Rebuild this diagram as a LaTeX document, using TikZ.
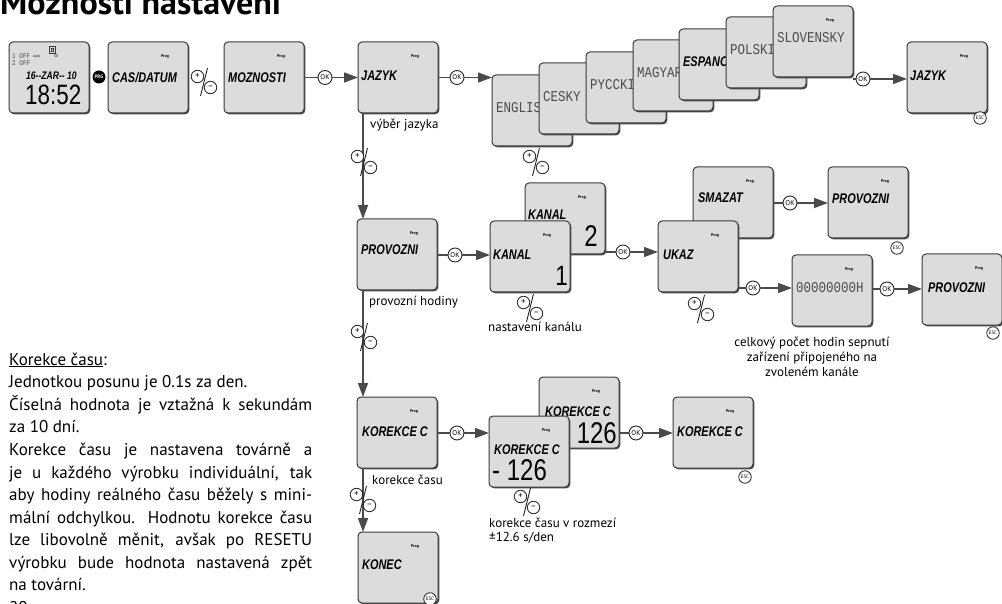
\documentclass[tikz,border=0pt]{standalone}
\usepackage{fontspec}
\setmainfont{PT Sans}
\newfontfamily\lcdfam{Liberation Sans}
\newfontfamily\lcdmono{Liberation Mono}
\newfontfamily\symfam{DejaVu Sans}
\usetikzlibrary{arrows.meta,calc,shadows}

\definecolor{lcdfill}{HTML}{DCDCDC}
\definecolor{lcdline}{HTML}{3A3A3A}
\definecolor{connc}{HTML}{4A4A4A}

\newcommand\lcdI[2][14]{{\fontsize{#1}{#1}\selectfont\lcdfam\bfseries\itshape\scalebox{0.78}[1]{#2}}}
\newcommand\lcdT[2][12.5]{{\fontsize{#1}{#1}\selectfont\lcdmono\color{black!70}\scalebox{1}[1.2]{#2}}}
\newcommand\lcdD[2][28]{{\fontsize{#1}{#1}\selectfont\lcdfam\scalebox{0.8}[1]{#2}}}
\newcommand\jline[1]{\makebox[303pt][s]{#1}}
\newcommand\progon[1]{\node[progt] (#1p) at ($(#1.north west)+(57,15)$) {Prog};}

\tikzset{
 lcd/.style={draw=lcdline, fill=lcdfill, line width=1pt, rounded corners=4pt,
   minimum width=80pt, minimum height=71pt, inner sep=0pt, outer sep=0pt, anchor=north west,
   drop shadow={shadow xshift=1.3pt, shadow yshift=-1.3pt, fill=black!70, opacity=1}},
 okc/.style={circle, draw=black!85, fill=white, line width=0.9pt, minimum size=14pt, inner sep=0pt,
   font=\fontsize{7}{7}\selectfont},
 escc/.style={circle, draw=black!85, fill=white, line width=0.8pt, minimum size=12.5pt, inner sep=0pt,
   font=\fontsize{5}{5}\selectfont},
 prgc/.style={circle, fill=black, text=white, minimum size=13pt, inner sep=0pt,
   font=\fontsize{5}{5}\selectfont\bfseries},
 conn/.style={draw=connc, line width=1.5pt},
 arr/.style={conn, -{Triangle[length=14pt,width=10pt]}},
 progt/.style={font=\fontsize{4}{4}\selectfont\bfseries, inner sep=0pt},
 lbl/.style={font=\fontsize{13}{15}\selectfont, inner sep=0pt, anchor=west},
 lcdtxt/.style={inner sep=0pt, anchor=west},
 body/.style={anchor=base west, inner sep=0pt, font=\fontsize{17}{20}\selectfont},
 pmc/.style={circle, draw=black!85, fill=white, line width=0.8pt, minimum size=12.5pt, inner sep=0pt,
   font=\fontsize{9}{9}\selectfont},
 pm/.pic={
   \node[pmc] (-plus) at (-6.5,-5.5) {+};
   \node[pmc] (-minus) at (6.5,5.5) {−};
   \draw[line width=0.9pt, black!85] (3.5,-14) -- (-3.5,14);
 }
}

\begin{document}
\begin{tikzpicture}[x=1pt,y=-1pt]
\useasboundingbox (0,0) rectangle (1002,604);
\clip (0,0) rectangle (1002,604);

% title
\node[anchor=base west, inner sep=0pt, font=\fontsize{34}{34}\selectfont\bfseries] (title) at (0,15) {Možnosti nastavení};

% ---- row 1
\node[lcd] (A) at (9,42) {};
\draw[lcdline, line width=0.6pt] (49,46) rectangle (55,53);
\draw[lcdline, line width=0.6pt] (51,48) rectangle (53,51);
\node[lcdtxt] (A1) at (12,56) {\lcdT[6]{1 OFF}};
\node[lcdtxt, font=\fontsize{3.5}{3.5}\selectfont] (A2) at (33,56) {Auto};
\node[lcdtxt, font=\fontsize{5}{5}\selectfont\symfam] (A3) at (54,56) {⊙};
\node[lcdtxt] (A4) at (12,63) {\lcdT[6]{2 OFF}};
\node[lcdtxt] (A5) at (26,76) {\lcdI[11]{16-{}-ZAR-{}- 10}};
\node[lcdtxt] (A6) at (25,95) {\lcdD[28]{18:52}};

\node[prgc] (prg) at (99,77) {PRG};

\node[lcd] (B) at (108,42) {};
\node[lcdtxt] (Bt) at ($(B.north west)+(4,36)$) {\lcdI{CAS/DATUM}};
\progon{B}

\node[lcd] (C) at (224,42) {};
\node[lcdtxt] (Ct) at ($(C.north west)+(4,36)$) {\lcdI{MOZNOSTI}};
\progon{C}

\node[lcd] (D) at (358,42) {};
\node[lcdtxt] (Dt) at ($(D.north west)+(3,34)$) {\lcdI{JAZYK}};
\progon{D}

\node[lcd] (E1) at (492,75) {};
\node[lcdtxt] (E1t) at ($(E1.north west)+(4,33)$) {\lcdT{ENGLISH}};
\node[lcd] (E2) at (539,63) {};
\node[lcdtxt] (E2t) at ($(E2.north west)+(4,34)$) {\lcdT{CESKY}};
\node[lcd] (E3) at (586,52) {};
\node[lcdtxt] (E3t) at ($(E3.north west)+(4,33)$) {\lcdT{PYCCKI}};
\node[lcd] (E4) at (633,40) {};
\node[lcdtxt] (E4t) at ($(E4.north west)+(4,33)$) {\lcdT{MAGYAR}};
\node[lcd] (E5) at (679,29) {};
\node[lcdtxt] (E5t) at ($(E5.north west)+(4,33)$) {\lcdI{ESPANOL}};
\node[lcd] (E6) at (726,17) {};
\node[lcdtxt] (E6t) at ($(E6.north west)+(4,33)$) {\lcdT{POLSKI}};
\node[lcd] (E7) at (773,6) {};
\node[lcdtxt] (E7t) at ($(E7.north west)+(4,32)$) {\lcdT{SLOVENSKY}};
\progon{E7}

\node[lcd] (F) at (907,42) {};
\node[lcdtxt] (Ft) at ($(F.north west)+(3,34)$) {\lcdI{JAZYK}};
\progon{F}

% ---- row 2
\node[lcd] (G) at (357,219) {};
\node[lcdtxt] (Gt) at ($(G.north west)+(4,31)$) {\lcdI{PROVOZNI}};
\progon{G}

\node[lcd] (H2) at (525,183) {};
\node[lcdtxt] (H2t) at ($(H2.north west)+(3,32)$) {\lcdI{KANAL}};
\node[inner sep=0pt, anchor=east] (H2d) at ($(H2.north west)+(73,53)$) {\lcdD[30]{2}};
\progon{H2}
\node[lcd] (H1) at (490,221) {};
\node[lcdtxt] (H1t) at ($(H1.north west)+(3,34)$) {\lcdI{KANAL}};
\node[inner sep=0pt, anchor=east] (H1d) at ($(H1.north west)+(78,55)$) {\lcdD[28]{1}};
\progon{H1}

\node[lcd] (I2) at (693,167) {};
\node[lcdtxt] (I2t) at ($(I2.north west)+(5,31)$) {\lcdI{SMAZAT}};
\progon{I2}
\node[lcd] (I1) at (658,221) {};
\node[lcdtxt] (I1t) at ($(I1.north west)+(5,34)$) {\lcdI{UKAZ}};
\progon{I1}

\node[lcd] (J) at (828,167) {};
\node[lcdtxt] (Jt) at ($(J.north west)+(4,32)$) {\lcdI{PROVOZNI}};
\progon{J}

\node[lcd] (K) at (792,255) {};
\node[lcdtxt] (Kt) at ($(K.north west)+(4,33)$) {\lcdT[12.5]{00000000H}};
\progon{K}

\node[lcd] (L) at (922,254) {};
\node[lcdtxt] (Lt) at ($(L.north west)+(6,34)$) {\lcdI{PROVOZNI}};
\progon{L}

% ---- row 3
\node[lcd] (M) at (357,397) {};
\node[lcdtxt] (Mt) at ($(M.north west)+(5,35)$) {\lcdI{KOREKCE C}};
\progon{M}

\node[lcd] (N2) at (539,377) {};
\node[lcdtxt] (N2t) at ($(N2.north west)+(6,35)$) {\lcdI{KOREKCE C}};
\node[inner sep=0pt, anchor=east] (N2d) at ($(N2.north west)+(78,56)$) {\lcdD[30]{126}};
\progon{N2}
\node[lcd] (N1) at (489,416) {};
\node[lcdtxt] (N1t) at ($(N1.north west)+(5,34)$) {\lcdI{KOREKCE C}};
\node[inner sep=0pt, anchor=west] (N1d) at ($(N1.north west)+(3,54)$) {\lcdD[30]{- 126}};
\progon{N1}

\node[lcd] (O) at (673,397) {};
\node[lcdtxt] (Ot) at ($(O.north west)+(4,35)$) {\lcdI{KOREKCE C}};
\progon{O}

\node[lcd] (P) at (358,532) {};
\node[lcdtxt] (Pt) at ($(P.north west)+(4,33)$) {\lcdI{KONEC}};
\progon{P}

% ---- connectors
\node[okc] (ok1) at (325,77.5) {OK};
\draw[conn] (C.east) -- (ok1);
\draw[arr] (ok1) -- (D.west);

\node[okc] (ok2) at (457,77.5) {OK};
\draw[conn] (D.east) -- (ok2);
\draw[arr] (ok2) -- (ok2 -| E1.west);

\node[okc] (ok3) at (863,79) {OK};
\draw[conn] (ok3 -| E7.east) -- (ok3);
\draw[arr] (ok3) -- (ok3 -| F.west);

\node[okc] (ok4) at (455,255) {OK};
\draw[conn] (ok4 -| G.east) -- (ok4);
\draw[arr] (ok4) -- (ok4 -| H1.west);

\node[okc] (ok5) at (623,252) {OK};
\draw[conn] (ok5 -| H2.east) -- (ok5);
\draw[arr] (ok5) -- (ok5 -| I1.west);

\node[okc] (ok6) at (790,203) {OK};
\draw[conn] (ok6 -| I2.east) -- (ok6);
\draw[arr] (ok6) -- (ok6 -| J.west);

\node[okc] (ok7) at (753,288) {OK};
\draw[conn] (ok7 -| I1.east) -- (ok7);
\draw[arr] (ok7) -- (ok7 -| K.west);

\node[okc] (ok8) at (887,289) {OK};
\draw[conn] (ok8 -| K.east) -- (ok8);
\draw[arr] (ok8) -- (ok8 -| L.west);

\node[okc] (ok9) at (457,433) {OK};
\draw[conn] (ok9 -| M.east) -- (ok9);
\draw[arr] (ok9) -- (ok9 -| N1.west);

\node[okc] (ok10) at (636,433) {OK};
\draw[conn] (ok10 -| N2.east) -- (ok10);
\draw[arr] (ok10) -- (ok10 -| O.west);

\coordinate (vx) at (363,0);
\draw[arr] (D.south -| vx) -- (G.north -| vx);
\draw[arr] (G.south -| vx) -- (M.north -| vx);
\draw[arr] (M.south -| vx) -- (P.north -| vx);

% ESC
\node[escc] (escF) at (980,118) {ESC};
\node[escc] (escJ) at (897,248) {ESC};
\node[escc] (escL) at (993,333) {ESC};
\node[escc] (escO) at (745,477) {ESC};
\node[escc] (escP) at (430,599) {ESC};

% plus/minus
\pic (pm1) at (204,82) {pm};
\pic (pm2) at (364,162) {pm};
\pic (pm3) at (536,162) {pm};
\pic (pm4) at (364,337) {pm};
\pic (pm5) at (530,308) {pm};
\pic (pm6) at (701,309) {pm};
\pic (pm7) at (363,500) {pm};
\pic (pm8) at (527,502) {pm};

% labels
\node[lbl] (l1) at (370,125) {výběr jazyka};
\node[lbl] (l2) at (369,302) {provozní hodiny};
\node[lbl] (l3) at (488,327) {nastavení kanálu};
\node[lbl, align=center, anchor=center] (l4) at (812,357) {celkový počet hodin sepnutí\\zařízení připojeného na\\zvoleném kanále};
\node[lbl] (l5) at (372,480) {korekce času};
\node[lbl, align=left, font=\fontsize{13}{14}\selectfont] (l6) at (489,531) {korekce času v rozmezí\\±12.6 s/den};

% left text
\node[body] (k0) at (9,365) {\underline{Korekce času}:};
\node[body] (k1) at (9,387) {Jednotkou posunu je 0.1s za den.};
\node[body] (k2) at (9,410) {\jline{Číselná hodnota je vztažná k sekundám}};
\node[body] (k3) at (9,432) {za 10 dní.};
\node[body] (k4) at (9,455) {\jline{Korekce času je nastavena továrně a}};
\node[body] (k5) at (9,478) {\jline{je u každého výrobku individuální, tak}};
\node[body] (k6) at (9,500) {\jline{aby hodiny reálného času běžely s mini-}};
\node[body] (k7) at (9,523) {\jline{mální odchylkou. Hodnotu korekce času}};
\node[body] (k8) at (9,545) {\jline{lze libovolně měnit, avšak po RESETU}};
\node[body] (k9) at (9,568) {\jline{výrobku bude hodnota nastavená zpět}};
\node[body] (k10) at (9,590) {na tovární.};
\node[body] (k11) at (9,613) {20};
\end{tikzpicture}
\end{document}
